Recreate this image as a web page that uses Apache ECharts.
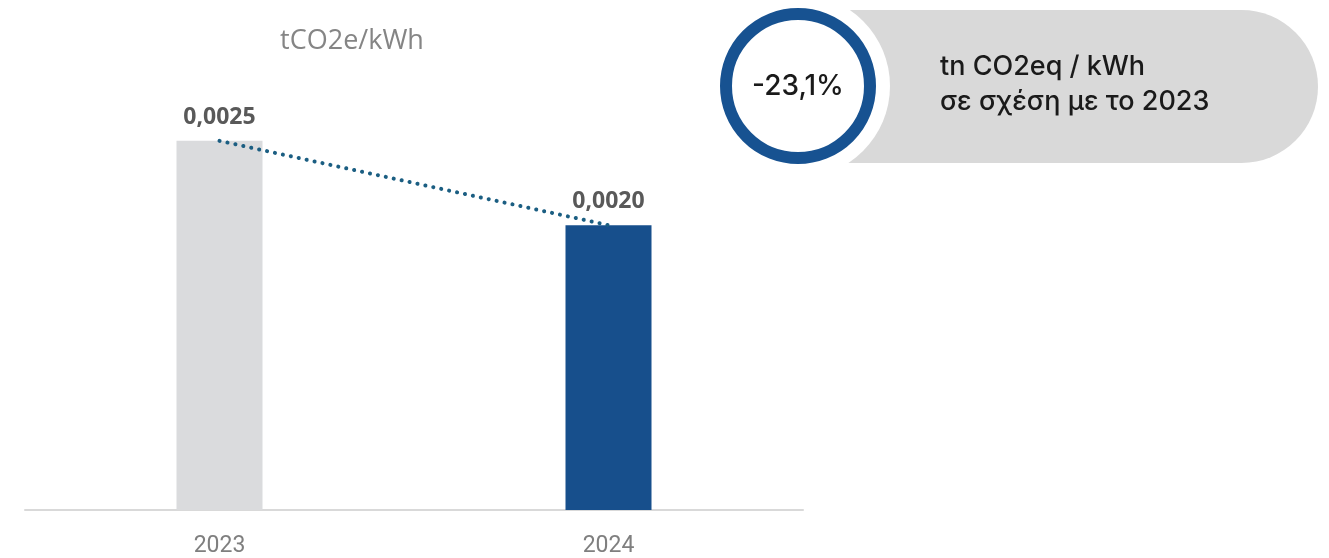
<!DOCTYPE html>
<html>
<head>
<meta charset="utf-8">
<script src="https://cdn.jsdelivr.net/npm/echarts@6/dist/echarts.min.js"></script>
<style>
html,body{margin:0;padding:0;background:#fff;}
#chart{width:1329px;height:558px;}
</style>
</head>
<body>
<div id="chart"></div>
<script>
// ---- data ----
const categories = ['2023', '2024'];
const intensity = [0.00254, 0.00196];
const barColors = ['#dadbdd', '#174f8c'];
const unitTitle = 'tCO2e/kWh';
const changeText = '-23,1%';
const badgeLines = ['tn CO2eq / kWh', 'σε σχέση με το 2023'];

const fmt = v => v.toFixed(4).replace('.', ',');

const chart = echarts.init(document.getElementById('chart'));
chart.setOption({
  backgroundColor: '#ffffff',
  animation: false,
  title: {
    text: unitTitle,
    left: 347,
    top: 23,
    textAlign: 'center',
    textStyle: { fontFamily: 'Open Sans', fontSize: 27, fontWeight: 'normal', color: '#858585' }
  },
  grid: { left: 25, right: 526, top: 74, bottom: 47 },
  xAxis: {
    type: 'category',
    data: categories,
    axisLine: { lineStyle: { color: '#d9d9d9', width: 2 } },
    axisTick: { show: false },
    axisLabel: { margin: 25, fontFamily: 'Roboto', fontSize: 23, color: '#7f7f7f' }
  },
  yAxis: { type: 'value', min: 0, max: 0.003, show: false, splitLine: { show: false } },
  series: [
    {
      type: 'bar',
      data: intensity.map((v, i) => ({ value: v, itemStyle: { color: barColors[i] } })),
      barWidth: 86,
      label: {
        show: true, position: 'top', distance: 12,
        formatter: p => fmt(p.value),
        fontFamily: 'Open Sans', fontWeight: 'bold', fontSize: 23, color: '#595959'
      },
      z: 1
    },
    {
      type: 'line',
      data: intensity,
      symbol: 'none',
      lineStyle: { color: '#1b5e82', width: 4, type: [0.1, 8], cap: 'round' },
      z: 3
    }
  ],
  graphic: [
    { type: 'rect', shape: { x: 800, y: 10, width: 518, height: 153, r: [0, 76.5, 76.5, 0] }, style: { fill: '#d9d9d9' }, z: 10 },
    { type: 'circle', shape: { cx: 798, cy: 86, r: 92 }, style: { fill: '#ffffff' }, z: 11 },
    { type: 'circle', shape: { cx: 798, cy: 86, r: 72 }, style: { fill: '#ffffff', stroke: '#175291', lineWidth: 12 }, z: 12 },
    { type: 'text', x: 798, y: 87, style: { text: changeText, align: 'center', verticalAlign: 'middle', fontFamily: 'Inter', fontWeight: 500, fontSize: 28, fill: '#1a1a1a' }, z: 13 },
    { type: 'text', x: 940, y: 67, style: { text: badgeLines[0], align: 'left', verticalAlign: 'middle', fontFamily: 'Inter', fontWeight: 500, fontSize: 27, fill: '#1a1a1a' }, z: 13 },
    { type: 'text', x: 940, y: 102, style: { text: badgeLines[1], align: 'left', verticalAlign: 'middle', fontFamily: 'Inter', fontWeight: 500, fontSize: 27, fill: '#1a1a1a' }, z: 13 }
  ]
});
</script>
</body>
</html>
